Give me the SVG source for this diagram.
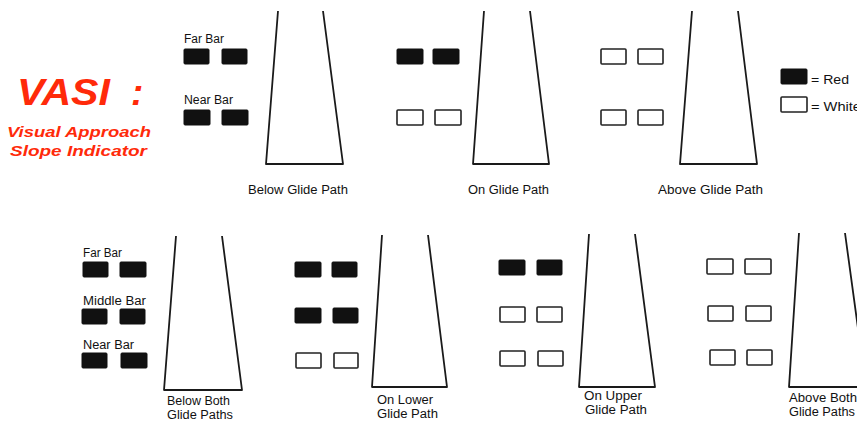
<svg xmlns="http://www.w3.org/2000/svg" width="857" height="421" viewBox="0 0 857 421">
<style>
.bg{fill:#fff}
.rw{fill:none;stroke:#1a1a1a;stroke-width:1.8;stroke-linejoin:round}
.r{fill:#111;stroke:#111;stroke-width:1}
.w{fill:#fff;stroke:#222;stroke-width:1.6}
.lbl{font-family:"Liberation Sans",Arial,sans-serif;font-size:12.5px;fill:#111}
.title{font-family:"Liberation Sans",Arial,sans-serif;font-weight:bold;font-style:italic;fill:#ff2a0a}
</style>
<rect class="bg" x="0" y="0" width="857" height="421"/>
<g id="title">
<text class="title" x="17" y="105" font-size="37"><tspan textLength="93" lengthAdjust="spacingAndGlyphs">VASI</tspan> <tspan x="131">:</tspan></text>
<text class="title" x="7" y="137" font-size="15.5" textLength="144" lengthAdjust="spacingAndGlyphs">Visual Approach</text>
<text class="title" x="10" y="156" font-size="15.5" textLength="137" lengthAdjust="spacingAndGlyphs">Slope Indicator</text>
</g>
<g id="legend">
<rect class="r" x="781" y="69" width="26" height="15" rx="1"/>
<text class="lbl" x="811" y="84" textLength="38" lengthAdjust="spacingAndGlyphs">= Red</text>
<rect class="w" x="781" y="97" width="26" height="15" rx="1"/>
<text class="lbl" x="811" y="111" textLength="50" lengthAdjust="spacingAndGlyphs">= White</text>
</g>
<g id="top-below">
<polyline class="rw" points="278,11 266,164 343,164 323,11"/>
<text class="lbl" x="184" y="43" textLength="40" lengthAdjust="spacingAndGlyphs">Far Bar</text>
<rect class="r" x="184" y="49" width="25" height="15" rx="1"/>
<rect class="r" x="222" y="49" width="25" height="15" rx="1"/>
<text class="lbl" x="184" y="104" textLength="49" lengthAdjust="spacingAndGlyphs">Near Bar</text>
<rect class="r" x="184" y="110" width="26" height="15" rx="1"/>
<rect class="r" x="222" y="110" width="26" height="15" rx="1"/>
<text class="lbl" x="248" y="194" textLength="100" lengthAdjust="spacingAndGlyphs">Below Glide Path</text>
</g>
<g id="top-on">
<polyline class="rw" points="484,11 473,164 549,164 530,11"/>
<rect class="r" x="397" y="49" width="26" height="15" rx="1"/>
<rect class="r" x="433" y="49" width="26" height="15" rx="1"/>
<rect class="w" x="397" y="110" width="26" height="15" rx="1"/>
<rect class="w" x="435" y="110" width="26" height="15" rx="1"/>
<text class="lbl" x="468" y="194" textLength="81" lengthAdjust="spacingAndGlyphs">On Glide Path</text>
</g>
<g id="top-above">
<polyline class="rw" points="692,11 680,164 757,164 738,11"/>
<rect class="w" x="601" y="49" width="25" height="15" rx="1"/>
<rect class="w" x="638" y="49" width="25" height="15" rx="1"/>
<rect class="w" x="601" y="110" width="25" height="15" rx="1"/>
<rect class="w" x="638" y="110" width="25" height="15" rx="1"/>
<text class="lbl" x="658" y="194" textLength="105" lengthAdjust="spacingAndGlyphs">Above Glide Path</text>
</g>
<g id="bot-below">
<polyline class="rw" points="176,236 164,390 242,390 222,236"/>
<text class="lbl" x="83" y="257" textLength="39" lengthAdjust="spacingAndGlyphs">Far Bar</text>
<rect class="r" x="83" y="262" width="25" height="15" rx="1"/>
<rect class="r" x="120" y="262" width="26" height="15" rx="1"/>
<text class="lbl" x="83" y="305" textLength="63" lengthAdjust="spacingAndGlyphs">Middle Bar</text>
<rect class="r" x="82" y="309" width="25" height="15" rx="1"/>
<rect class="r" x="120" y="309" width="25" height="15" rx="1"/>
<text class="lbl" x="83" y="349" textLength="51" lengthAdjust="spacingAndGlyphs">Near Bar</text>
<rect class="r" x="82" y="353" width="25" height="15" rx="1"/>
<rect class="r" x="121" y="353" width="26" height="15" rx="1"/>
<text class="lbl" x="167" y="405" textLength="63" lengthAdjust="spacingAndGlyphs">Below Both</text>
<text class="lbl" x="167" y="419" textLength="66" lengthAdjust="spacingAndGlyphs">Glide Paths</text>
</g>
<g id="bot-lower">
<polyline class="rw" points="382,235 372,387 447,387 428,235"/>
<rect class="r" x="295" y="262" width="26" height="15" rx="1"/>
<rect class="r" x="332" y="262" width="25" height="15" rx="1"/>
<rect class="r" x="295" y="308" width="26" height="15" rx="1"/>
<rect class="r" x="333" y="308" width="25" height="15" rx="1"/>
<rect class="w" x="296" y="353" width="25" height="15" rx="1"/>
<rect class="w" x="334" y="353" width="24" height="15" rx="1"/>
<text class="lbl" x="377" y="404" textLength="56" lengthAdjust="spacingAndGlyphs">On Lower</text>
<text class="lbl" x="377" y="418" textLength="61" lengthAdjust="spacingAndGlyphs">Glide Path</text>
</g>
<g id="bot-upper">
<polyline class="rw" points="589,234 579,387 655,387 635,234"/>
<rect class="r" x="499" y="260" width="26" height="15" rx="1"/>
<rect class="r" x="537" y="260" width="25" height="15" rx="1"/>
<rect class="w" x="500" y="307" width="25" height="15" rx="1"/>
<rect class="w" x="537" y="307" width="25" height="15" rx="1"/>
<rect class="w" x="500" y="351" width="25" height="15" rx="1"/>
<rect class="w" x="538" y="351" width="25" height="15" rx="1"/>
<text class="lbl" x="584" y="400" textLength="58" lengthAdjust="spacingAndGlyphs">On Upper</text>
<text class="lbl" x="585" y="414" textLength="62" lengthAdjust="spacingAndGlyphs">Glide Path</text>
</g>
<g id="bot-above">
<polyline class="rw" points="799,233 789,387 866,387 845,233"/>
<rect class="w" x="707" y="259" width="26" height="15" rx="1"/>
<rect class="w" x="745" y="259" width="26" height="15" rx="1"/>
<rect class="w" x="708" y="306" width="25" height="15" rx="1"/>
<rect class="w" x="746" y="306" width="25" height="15" rx="1"/>
<rect class="w" x="710" y="350" width="25" height="15" rx="1"/>
<rect class="w" x="747" y="350" width="25" height="15" rx="1"/>
<text class="lbl" x="789" y="402" textLength="68" lengthAdjust="spacingAndGlyphs">Above Both</text>
<text class="lbl" x="789" y="416" textLength="66" lengthAdjust="spacingAndGlyphs">Glide Paths</text>
</g>
<g id="connectors"></g>
</svg>
